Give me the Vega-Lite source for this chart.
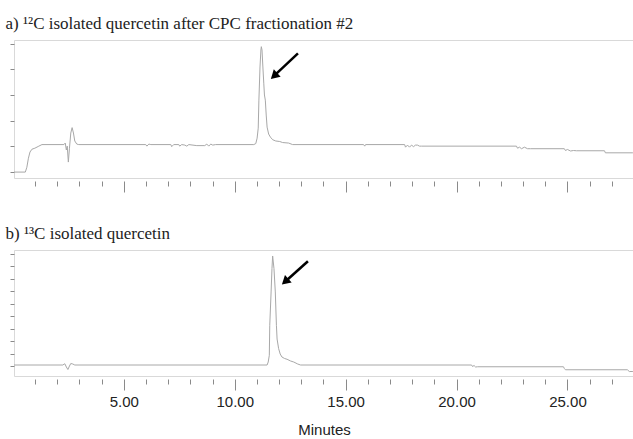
{
  "$schema": "https://vega.github.io/schema/vega-lite/v6.json",
  "padding": {"left": 5, "top": 14, "right": 0, "bottom": 0},
  "background": "white",
  "config": {
    "view": {"stroke": "#d9d9d9", "strokeWidth": 1},
    "title": {"font": "Liberation Serif", "fontSize": 17, "fontWeight": "normal", "color": "#222222", "anchor": "start", "frame": "bounds", "dx": -4, "offset": 7},
    "axis": {"domain": false, "grid": false, "tickColor": "#8a8a8a", "labelFont": "Liberation Sans", "labelFontSize": 15, "labelColor": "#222222", "titleFont": "Liberation Sans", "titleFontSize": 15, "titleFontWeight": "normal", "titleColor": "#222222"}
  },
  "datasets": {
    "a": [
      {"t": 0.05, "v": 0.0}, {"t": 0.56, "v": 0.0}, {"t": 0.63, "v": 0.19}, {"t": 0.70, "v": 0.54}, {"t": 0.77, "v": 0.78}, {"t": 0.86, "v": 0.89}, {"t": 0.99, "v": 0.93}, {"t": 1.17, "v": 1.01}, {"t": 1.31, "v": 1.07},
      {"t": 2.30, "v": 1.07}, {"t": 2.36, "v": 1.13}, {"t": 2.41, "v": 0.86}, {"t": 2.45, "v": 1.01}, {"t": 2.50, "v": 0.39}, {"t": 2.55, "v": 0.93}, {"t": 2.61, "v": 1.52}, {"t": 2.67, "v": 1.73}, {"t": 2.73, "v": 1.52}, {"t": 2.79, "v": 1.21}, {"t": 2.88, "v": 1.09}, {"t": 2.97, "v": 1.07},
      {"t": 5.99, "v": 1.07}, {"t": 6.04, "v": 1.01}, {"t": 6.13, "v": 1.09}, {"t": 6.22, "v": 1.07}, {"t": 7.12, "v": 1.07}, {"t": 7.16, "v": 0.99}, {"t": 7.25, "v": 1.07}, {"t": 7.48, "v": 1.07}, {"t": 7.52, "v": 1.01}, {"t": 7.61, "v": 1.07}, {"t": 7.75, "v": 1.05}, {"t": 7.84, "v": 1.01}, {"t": 7.93, "v": 1.07}, {"t": 8.29, "v": 1.03}, {"t": 8.65, "v": 1.03}, {"t": 8.74, "v": 1.09}, {"t": 8.83, "v": 1.01}, {"t": 8.92, "v": 1.09}, {"t": 9.01, "v": 1.05}, {"t": 9.14, "v": 1.07},
      {"t": 10.86, "v": 1.07}, {"t": 10.95, "v": 1.11}, {"t": 11.01, "v": 1.32}, {"t": 11.06, "v": 1.71}, {"t": 11.09, "v": 2.80}, {"t": 11.14, "v": 4.09}, {"t": 11.18, "v": 4.75}, {"t": 11.20, "v": 4.88}, {"t": 11.23, "v": 4.75}, {"t": 11.27, "v": 4.09}, {"t": 11.31, "v": 3.46}, {"t": 11.34, "v": 3.00}, {"t": 11.38, "v": 2.80}, {"t": 11.42, "v": 2.22}, {"t": 11.46, "v": 1.75}, {"t": 11.53, "v": 1.48}, {"t": 11.61, "v": 1.36}, {"t": 11.71, "v": 1.26}, {"t": 11.85, "v": 1.21}, {"t": 12.03, "v": 1.19}, {"t": 12.16, "v": 1.15}, {"t": 12.43, "v": 1.13}, {"t": 12.61, "v": 1.07},
      {"t": 15.81, "v": 1.07}, {"t": 15.86, "v": 1.01}, {"t": 15.90, "v": 1.07}, {"t": 17.66, "v": 1.07}, {"t": 17.70, "v": 0.97}, {"t": 17.79, "v": 1.05}, {"t": 17.88, "v": 0.97}, {"t": 17.97, "v": 1.05}, {"t": 18.06, "v": 0.99}, {"t": 18.15, "v": 1.05}, {"t": 18.24, "v": 1.05}, {"t": 18.33, "v": 1.01}, {"t": 18.42, "v": 1.01},
      {"t": 22.70, "v": 1.01}, {"t": 22.75, "v": 0.93}, {"t": 22.84, "v": 0.97}, {"t": 22.93, "v": 0.91}, {"t": 23.06, "v": 0.97}, {"t": 23.20, "v": 0.91}, {"t": 23.33, "v": 0.91},
      {"t": 24.86, "v": 0.91}, {"t": 24.91, "v": 0.84}, {"t": 25.00, "v": 0.88}, {"t": 25.14, "v": 0.82}, {"t": 25.27, "v": 0.84}, {"t": 25.41, "v": 0.83}, {"t": 26.67, "v": 0.83}, {"t": 26.71, "v": 0.75}, {"t": 27.95, "v": 0.75}
    ],
    "b": [
      {"t": 0.05, "v": 0.08}, {"t": 2.25, "v": 0.08}, {"t": 2.34, "v": 0.18}, {"t": 2.41, "v": -0.08}, {"t": 2.48, "v": -0.28}, {"t": 2.55, "v": 0.0}, {"t": 2.61, "v": 0.2}, {"t": 2.70, "v": 0.16}, {"t": 2.79, "v": 0.08},
      {"t": 11.46, "v": 0.08}, {"t": 11.51, "v": 0.32}, {"t": 11.56, "v": 0.86}, {"t": 11.58, "v": 3.26}, {"t": 11.64, "v": 5.93}, {"t": 11.68, "v": 7.80}, {"t": 11.71, "v": 8.81}, {"t": 11.77, "v": 7.80}, {"t": 11.83, "v": 5.93}, {"t": 11.88, "v": 3.26}, {"t": 11.91, "v": 2.16}, {"t": 11.98, "v": 1.39}, {"t": 12.05, "v": 0.96}, {"t": 12.13, "v": 0.72}, {"t": 12.25, "v": 0.60}, {"t": 12.36, "v": 0.54}, {"t": 12.52, "v": 0.40}, {"t": 12.66, "v": 0.32}, {"t": 12.84, "v": 0.16}, {"t": 12.97, "v": 0.08},
      {"t": 20.68, "v": 0.08}, {"t": 20.72, "v": -0.04}, {"t": 20.79, "v": 0.04}, {"t": 20.86, "v": -0.08}, {"t": 20.95, "v": -0.06}, {"t": 24.82, "v": -0.06}, {"t": 24.86, "v": -0.2}, {"t": 24.91, "v": -0.30}, {"t": 27.70, "v": -0.30}, {"t": 27.79, "v": -0.44}, {"t": 27.95, "v": -0.44}
    ],
    "arrowA": [{"t": 12.85, "v": 4.62, "t2": 11.82, "v2": 3.78}],
    "arrowB": [{"t": 13.30, "v": 8.39, "t2": 12.32, "v2": 6.83}]
  },
  "spacing": 31,
  "vconcat": [
    {
      "width": 620,
      "height": 138,
      "title": {"text": "a) ¹²C isolated quercetin after CPC fractionation #2"},
      "layer": [
        {
          "data": {"name": "a"},
          "mark": {"type": "line", "color": "#a8a8a8", "strokeWidth": 1, "clip": true},
          "encoding": {
            "x": {"field": "t", "type": "quantitative", "scale": {"domain": [0.05, 28.0], "nice": false, "zero": false},
                  "axis": {"title": null, "values": [1,2,3,4,5,6,7,8,9,10,11,12,13,14,15,16,17,18,19,20,21,22,23,24,25,26,27], "tickCount": 100, "labels": false, "offset": 3,
                           "tickSize": {"condition": {"test": "datum.value % 5 === 0", "value": 11}, "value": 5}}},
            "y": {"field": "v", "type": "quantitative", "scale": {"domain": [-0.23, 5.14], "nice": false, "zero": false},
                  "axis": {"title": null, "values": [0,1,2,3,4,5], "tickCount": 100, "labels": false, "tickSize": 4}}
          }
        },
        {
          "data": {"name": "arrowA"},
          "mark": {"type": "rule", "color": "black", "strokeWidth": 2.5},
          "encoding": {"x": {"field": "t", "type": "quantitative"}, "y": {"field": "v", "type": "quantitative"}, "x2": {"field": "t2"}, "y2": {"field": "v2"}}
        },
        {
          "data": {"name": "arrowA"},
          "mark": {"type": "point", "shape": "triangle", "filled": true, "color": "black", "size": 100, "angle": 227, "opacity": 1},
          "encoding": {"x": {"field": "t2", "type": "quantitative"}, "y": {"field": "v2", "type": "quantitative"}}
        }
      ]
    },
    {
      "width": 620,
      "height": 126,
      "title": {"text": "b) ¹³C isolated quercetin"},
      "layer": [
        {
          "data": {"name": "b"},
          "mark": {"type": "line", "color": "#a8a8a8", "strokeWidth": 1, "clip": true},
          "encoding": {
            "x": {"field": "t", "type": "quantitative", "scale": {"domain": [0.05, 28.0], "nice": false, "zero": false},
                  "axis": {"title": "Minutes", "values": [1,2,3,4,5,6,7,8,9,10,11,12,13,14,15,16,17,18,19,20,21,22,23,24,25,26,27], "tickCount": 100, "offset": 3,
                           "labelExpr": "datum.value % 5 === 0 ? format(datum.value, '.2f') : ''",
                           "tickSize": {"condition": {"test": "datum.value % 5 === 0", "value": 11}, "value": 5},
                           "labelPadding": 4, "titlePadding": 13}},
            "y": {"field": "v", "type": "quantitative", "scale": {"domain": [-0.8, 9.29], "nice": false, "zero": false},
                  "axis": {"title": null, "values": [0,1,2,3,4,5,6,7,8,9], "tickCount": 100, "labels": false, "tickSize": 4}}
          }
        },
        {
          "data": {"name": "arrowB"},
          "mark": {"type": "rule", "color": "black", "strokeWidth": 2.5},
          "encoding": {"x": {"field": "t", "type": "quantitative"}, "y": {"field": "v", "type": "quantitative"}, "x2": {"field": "t2"}, "y2": {"field": "v2"}}
        },
        {
          "data": {"name": "arrowB"},
          "mark": {"type": "point", "shape": "triangle", "filled": true, "color": "black", "size": 100, "angle": 228, "opacity": 1},
          "encoding": {"x": {"field": "t2", "type": "quantitative"}, "y": {"field": "v2", "type": "quantitative"}}
        }
      ]
    }
  ]
}
